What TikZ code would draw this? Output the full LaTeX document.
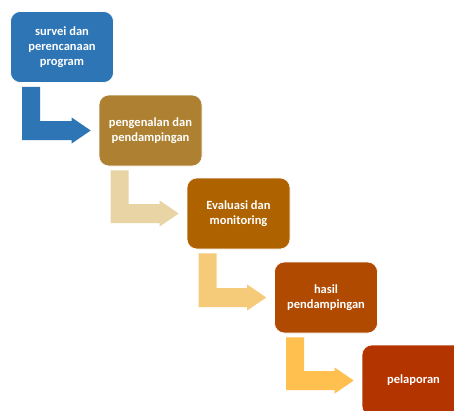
\documentclass[tikz,border=0pt]{standalone}
\usepackage{fontspec}
\setmainfont{Carlito}
\usetikzlibrary{calc}
\definecolor{cA}{RGB}{46,117,182}
\definecolor{cB}{RGB}{174,129,50}
\definecolor{cC}{RGB}{175,98,0}
\definecolor{cD}{RGB}{176,74,0}
\definecolor{cE}{RGB}{180,52,0}
\definecolor{aA}{RGB}{46,117,182}
\definecolor{aB}{RGB}{233,212,166}
\definecolor{aC}{RGB}{245,203,122}
\definecolor{aD}{RGB}{255,192,80}
\tikzset{
  stepbox/.style={rectangle, rounded corners=10pt, minimum width=103pt, minimum height=71pt,
    draw=white, line width=0.6pt, text=white, align=center, inner sep=2pt,
    font=\fontsize{12.5}{15}\selectfont\bfseries},
}
\newcommand{\bentarrow}[3]{%
  \fill[#3] let \p1=($(#1.south west)+(12,4)$), \p2=($(#2.west)+(-8,0)$) in
    (\x1,\y1) -- (\x1+18pt,\y1) -- (\x1+18pt,\y2+9.5pt) -- (\x2-19pt,\y2+9.5pt)
    -- (\x2-19pt,\y2+13pt) -- (\x2,\y2) -- (\x2-19pt,\y2-13pt) -- (\x2-19pt,\y2-9.5pt)
    -- (\x1,\y2-9.5pt) -- cycle;}
\begin{document}
\begin{tikzpicture}[x=1pt,y=-1pt]
\clip (0,0) rectangle (454,410);
\fill[white] (0,0) rectangle (454,410);
\node[stepbox, fill=cA] (b1) at (62,47) {survei dan\\perencanaan\\program};
\node[stepbox, fill=cB] (b2) at (150.5,130.5) {pengenalan dan\\pendampingan};
\node[stepbox, fill=cC] (b3) at (238.5,213.5) {Evaluasi dan\\monitoring};
\node[stepbox, fill=cD] (b4) at (326,297.5) {hasil\\pendampingan};
\node[stepbox, fill=cE] (b5) at (413.5,380.5) {pelaporan};
\bentarrow{b1}{b2}{aA}
\bentarrow{b2}{b3}{aB}
\bentarrow{b3}{b4}{aC}
\bentarrow{b4}{b5}{aD}
\end{tikzpicture}
\end{document}
